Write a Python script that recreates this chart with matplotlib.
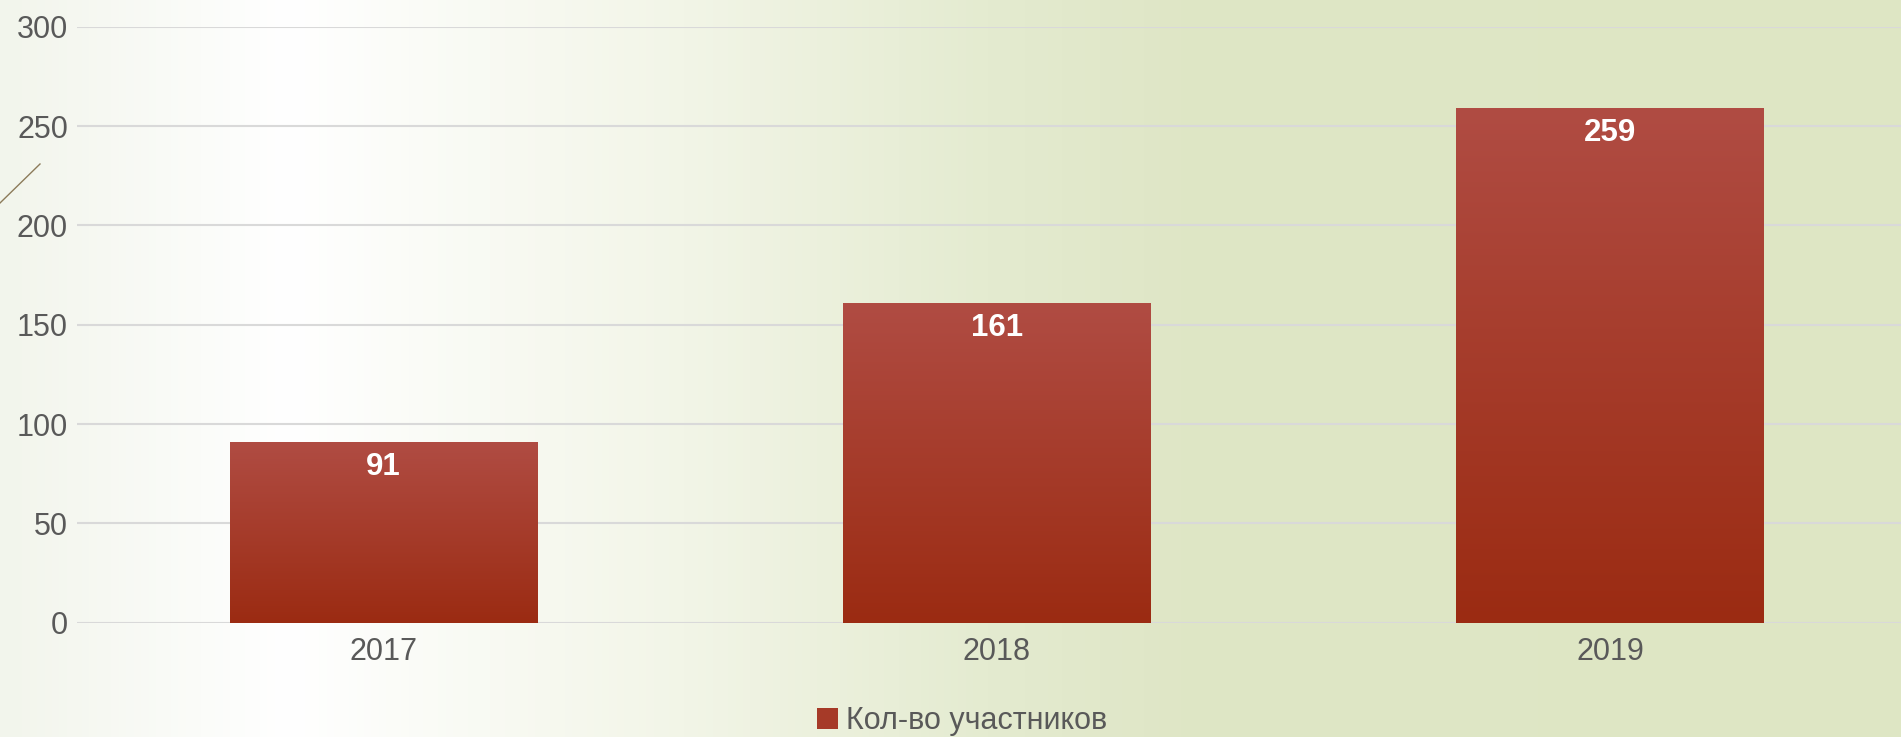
import numpy as np
import matplotlib
matplotlib.use("Agg")
import matplotlib.pyplot as plt
from matplotlib.colors import LinearSegmentedColormap
from matplotlib.patches import Patch
from matplotlib.lines import Line2D

categories = ["2017", "2018", "2019"]
values = [91, 161, 259]
series_name = "Кол-во участников"
yticks = [0, 50, 100, 150, 200, 250, 300]

plt.rcParams['font.family'] = ['Liberation Sans', 'DejaVu Sans']

W, H = 1901, 737
fig = plt.figure(figsize=(W / 100, H / 100), dpi=100)

# background gradient
bg = fig.add_axes([0, 0, 1, 1], zorder=-10)
bg_stops = [(0.0, (242/255, 245/255, 236/255)),
            (0.15, (1.0, 1.0, 1.0)),
            (0.36, (242/255, 245/255, 231/255)),
            (0.52, (228/255, 235/255, 208/255)),
            (0.62, (223/255, 230/255, 198/255)),
            (1.0, (222/255, 230/255, 196/255))]
bg_cmap = LinearSegmentedColormap.from_list("bg", bg_stops)
grad = np.linspace(0, 1, 512).reshape(1, -1)
bg.imshow(grad, aspect='auto', cmap=bg_cmap, extent=(0, 1, 0, 1))
bg.set_axis_off()

# decorative diagonal line
fig.add_artist(Line2D([0, 40 / W], [1 - 203 / H, 1 - 164 / H],
                      transform=fig.transFigure, color='#8C7B5A', lw=1.0))

ax = fig.add_axes([77 / W, 1 - 622.7 / H, 1840 / W, (622.7 - 26.7) / H])
ax.patch.set_alpha(0)

x = np.arange(len(categories))
bar_w = 0.502
bars = ax.bar(x, values, width=bar_w, color='none', edgecolor='none', zorder=3)

bar_cmap = LinearSegmentedColormap.from_list(
    "bar", [(155/255, 43/255, 18/255), (176/255, 76/255, 67/255)])
vgrad = np.linspace(0, 1, 256).reshape(-1, 1)
for b in bars:
    x0, y0 = b.get_x(), b.get_y()
    im = ax.imshow(vgrad, aspect='auto', cmap=bar_cmap, origin='lower',
                   extent=(x0, x0 + b.get_width(), y0, y0 + b.get_height()),
                   zorder=3)
    im.set_clip_path(b)

for xi, v in zip(x, values):
    ax.annotate(str(v), (xi, v), xytext=(0, -18), textcoords='offset points',
                ha='center', va='center', color='white', fontsize=22.5,
                fontweight='bold', zorder=5)

ax.set_xlim(-0.5, len(categories) - 0.5)
ax.set_ylim(0, 300)
ax.set_yticks(yticks)
ax.set_xticks(x)
ax.set_xticklabels(categories)
ax.yaxis.grid(True, color='#D9D9D9', lw=1.5, zorder=0)
ax.set_axisbelow(True)
for s in ax.spines.values():
    s.set_visible(False)
ax.tick_params(axis='both', length=0, labelsize=22, labelcolor='#595959')
ax.tick_params(axis='y', pad=6.5)
ax.tick_params(axis='x', pad=10)

handle = Patch(facecolor='#A63A28', edgecolor='none')
fig.legend([handle], [series_name], loc='center', bbox_to_anchor=(962 / W, 1 - 721 / H),
           frameon=False, fontsize=22, labelcolor='#595959',
           handlelength=0.7, handleheight=0.7, handletextpad=0.25,
           borderpad=0, borderaxespad=0)

fig.savefig("out.png", dpi=100)
